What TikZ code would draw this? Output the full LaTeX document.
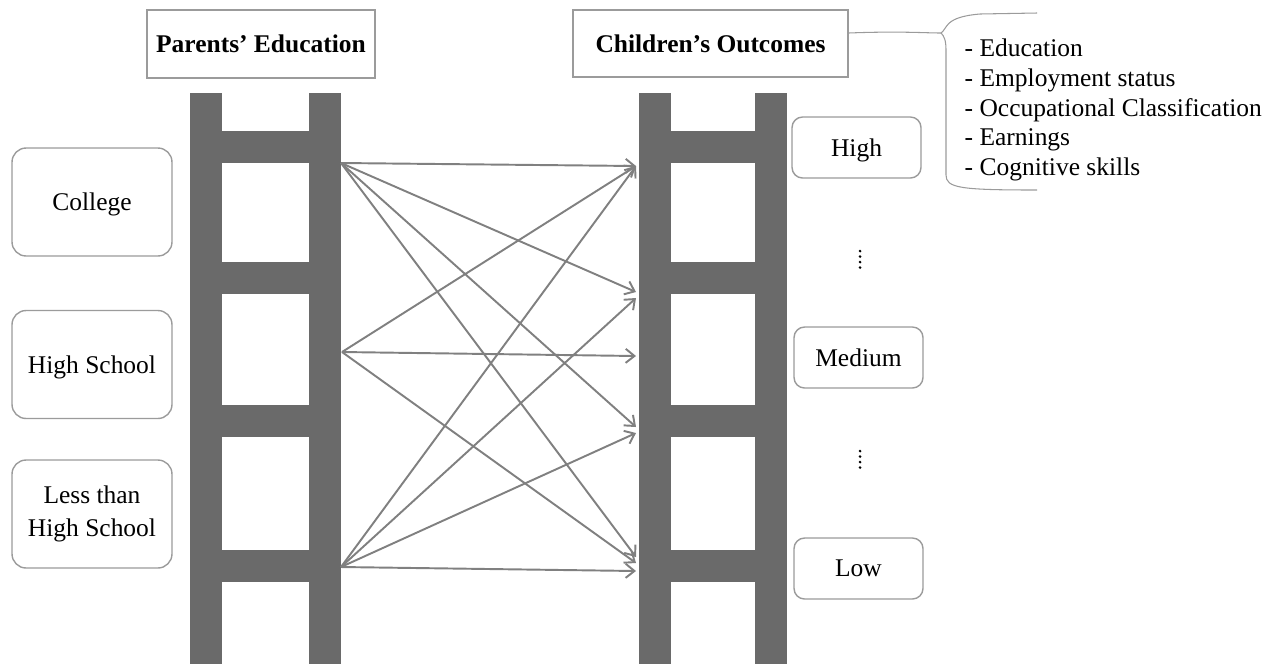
\documentclass[tikz,border=0pt]{standalone}
\usepackage{fontspec}
\setmainfont{Liberation Serif}
\usepackage{xcolor}
\usepackage{tikz}
\usetikzlibrary{arrows.meta}
\usetikzlibrary{positioning}
\definecolor{railgray}{RGB}{106,106,106}
\definecolor{linkgray}{RGB}{128,128,128}
\definecolor{boxgray}{RGB}{155,155,155}
\tikzset{
    headbox/.style = {rectangle, draw=boxgray, fill=white, align=center, font=\fontsize{14.5}{17}\selectfont\bfseries, minimum width=4.56cm, minimum height=1.36cm},
    levelbox/.style = {rectangle, rounded corners=8pt, draw=boxgray, fill=white, align=center, font=\fontsize{14.5}{18.5}\selectfont, minimum width=3.2cm, minimum height=2.16cm},
    outbox/.style = {rectangle, rounded corners=6pt, draw=boxgray, fill=white, align=center, font=\fontsize{14.5}{17}\selectfont, minimum width=2.58cm, minimum height=1.22cm},
}

\begin{document}
\begin{tikzpicture}[
	x=0.02cm,
	y=-0.02cm,
	thick
]
\tikzset{
    rail/.style = {fill=railgray},
    link/.style = {-{Straight Barb[length=5pt,width=8pt]}, line width=1.1pt, linkgray},
    brace/.style = {draw=boxgray, line width=0.6pt},
}
\useasboundingbox (0,0) rectangle (1273,664);
% ladders
\foreach \la/\lb in {190/309, 639/755} {
  \fill[rail] (\la,93) rectangle (\la+32,664);
  \fill[rail] (\lb,93) rectangle (\lb+32,664);
  \foreach \ry in {131,262,405,550}
    \fill[rail] (\la+32,\ry) rectangle (\lb,\ry+32);
}
% headers
\node[headbox] at (261,44) (pe) {Parents’ Education};
\node[headbox, minimum width=5.5cm, minimum height=1.34cm] at (710.5,43.5) (co) {Children’s Outcomes};
% parents levels
\node[levelbox, text depth=0pt] at (92,202) (col) {College};
\node[levelbox, text depth=0pt] at (92,364.5) (hs) {High School};
\node[levelbox] at (92,514) (lhs) {Less than\\High School};
% children levels
\node[outbox, text depth=0pt] at (856.5,147.5) (hi) {High};
\node[outbox, text depth=0pt] at (858.5,357.5) (me) {Medium};
\node[outbox, text depth=0pt] at (858.5,568.5) (lo) {Low};
\foreach \dy in {251,451}
  \foreach \k in {0,...,3}
    \fill (860,\dy+\k*5.5) circle (0.85pt);
%
\coordinate (p1) at (341,163);
\coordinate (p2) at (342,352);
\coordinate (p3) at (341,567);
\foreach \n/\y in {a/166, b/292, c/298, d/356, e/427, f/433, g/557, h/563, i/571}
  \coordinate (t\n) at (636,\y);
%
\draw[link] (p1) -- (ta);
\draw[link] (p1) -- (tb);
\draw[link] (p1) -- (te);
\draw[link] (p1) -- (tg);
%
\draw[link] (p2) -- (ta);
\draw[link] (p2) -- (td);
\draw[link] (p2) -- (th);
%
\draw[link] (p3) -- (ta);
\draw[link] (p3) -- (tc);
\draw[link] (p3) -- (tf);
\draw[link] (p3) -- (ti);
% brace
\coordinate (bs) at (co.east |- 0,33);
\coordinate (bt) at (941,33);
\draw[brace] (bs) .. controls (900,31) and (925,33) .. (bt);
\draw[brace] (bt) .. controls (948,28) and (944,17) .. (980,14) -- (1037,13);
\draw[brace] (bt) .. controls (944,36) and (946,40) .. (946,50) -- (946,175) .. controls (946,188) and (960,190) .. (1037,190);
\node[align=left, anchor=north west, inner sep=0pt, font=\fontsize{14.5}{17}\selectfont] at (964,38) (list) {- Education\\- Employment status\\- Occupational Classification\\- Earnings\\- Cognitive skills};
\end{tikzpicture}
\end{document}
